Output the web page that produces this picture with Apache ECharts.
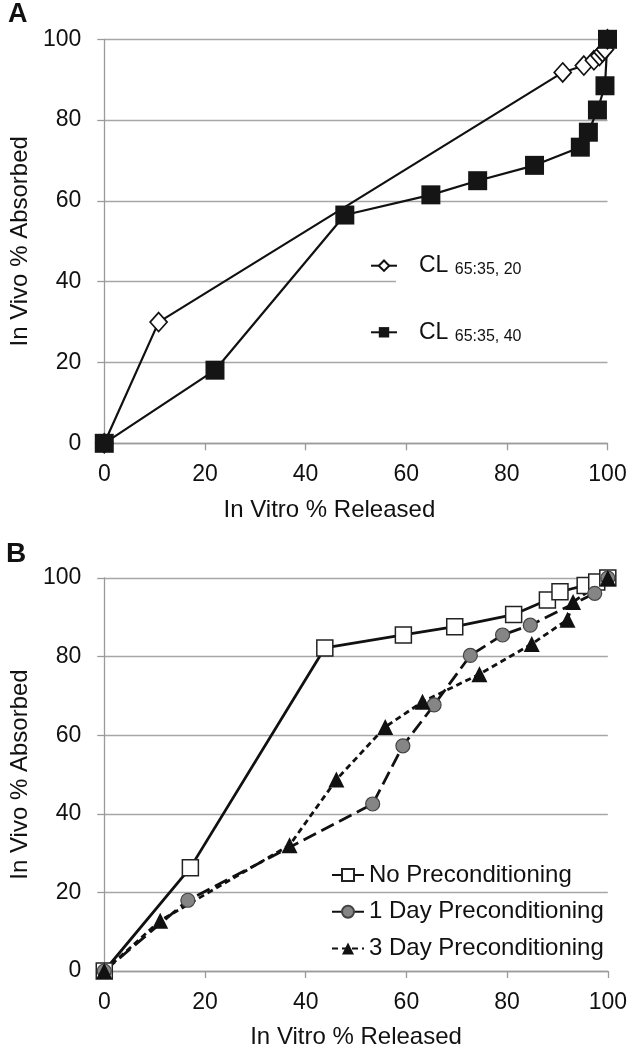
<!DOCTYPE html>
<html>
<head>
<meta charset="utf-8">
<script src="https://cdn.jsdelivr.net/npm/echarts@6/dist/echarts.min.js"></script>
<style>
html,body{margin:0;padding:0;background:#fff;}
#chart{width:630px;height:1050px;}
</style>
</head>
<body>
<div id="chart"></div>
<script>
// ---- Data ----
const xTicks = [0, 20, 40, 60, 80, 100];
const yTicks = [0, 20, 40, 60, 80, 100];

// Panel A
const seriesA1Name = 'CL 65:35, 20';
const seriesA1 = [[0,0],[10.8,30],[91.1,91.8],[95.3,93.5],[97.3,94.8],[98.4,95.9],[99.0,96.8],[99.5,97.5],[100,100]];
const seriesA2Name = 'CL 65:35, 40';
const seriesA2 = [[0,0],[22.0,18.1],[47.8,56.5],[64.9,61.5],[74.2,65.0],[85.5,68.8],[94.6,73.3],[96.2,77.0],[98.0,82.5],[99.5,88.5],[100,100]];

// Panel B
const seriesB1Name = 'No Preconditioning';
const seriesB1 = [[0,0],[17.1,26.3],[43.8,82.2],[59.4,85.5],[69.6,87.6],[81.3,90.7],[88.0,94.4],[90.5,96.5],[95.5,98.1],[97.8,99.0],[100,100]];
const seriesB2Name = '1 Day Preconditioning';
const seriesB2 = [[0,0],[16.6,18.0],[53.3,42.5],[59.3,57.3],[65.5,67.7],[72.7,80.3],[79.1,85.5],[84.6,88.0],[97.4,96.1],[100,100]];
const seriesB3Name = '3 Day Preconditioning';
const seriesB3 = [[0,0],[11.1,12.8],[36.8,32.0],[46.1,48.7],[55.8,62.1],[63.2,68.5],[74.5,75.5],[84.9,83.2],[92.0,89.4],[93.1,93.9],[100,100]];

const xTitle = 'In Vitro % Released';
const yTitle = 'In Vivo % Absorbed';

// ---- Styles ----
const FONT = "'Liberation Sans', Arial, sans-serif";
const GRID_GRAY = '#a6a6a6';
const AXIS_GRAY = '#9a9a9a';

function xAxisCfg(gridIndex, namePad) {
  return {
    type: 'value', gridIndex, min: xTicks[0], max: xTicks[xTicks.length-1], interval: xTicks[1]-xTicks[0],
    name: xTitle, nameLocation: 'middle', nameGap: gridIndex === 0 ? 55 : 54,
    nameTextStyle: { fontFamily: FONT, fontSize: 24, color: '#111', padding: namePad },
    axisLine: { show: true, lineStyle: { color: AXIS_GRAY, width: 1.3 } },
    axisTick: { show: true, inside: false, length: 7, lineStyle: { color: AXIS_GRAY, width: 1.3 } },
    axisLabel: { fontFamily: FONT, fontSize: 23, color: '#111', margin: 20 },
    splitLine: { show: false }
  };
}
function yAxisCfg(gridIndex) {
  return {
    type: 'value', gridIndex, min: yTicks[0], max: yTicks[yTicks.length-1], interval: yTicks[1]-yTicks[0],
    name: yTitle, nameLocation: 'middle', nameGap: 66, nameRotate: 90,
    nameTextStyle: { fontFamily: FONT, fontSize: 24, color: '#111' },
    axisLine: { show: true, lineStyle: { color: AXIS_GRAY, width: 1.3 } },
    axisTick: { show: true, inside: false, length: 7, lineStyle: { color: AXIS_GRAY, width: 1.3 } },
    axisLabel: { fontFamily: FONT, fontSize: 23, color: '#111', margin: 23 },
    splitLine: { show: true, lineStyle: { color: GRID_GRAY, width: 1.3 } }
  };
}

const subRich = {
  a: { fontFamily: FONT, fontSize: 23, lineHeight: 24, color: '#111', verticalAlign: 'middle', padding: [0,0,0,17] },
  s: { fontFamily: FONT, fontSize: 16, lineHeight: 16, color: '#111', verticalAlign: 'bottom', padding: [16,0,0,0] }
};
function subFormatter(name) {
  const parts = name.split(' ');
  return '{a|' + parts[0] + ' }{s|' + parts.slice(1).join(' ') + '}';
}

const option = {
  animation: false,
  backgroundColor: '#fff',
  textStyle: { fontFamily: FONT },
  grid: [
    { left: 96, right: 22.5, top: 39.3, height: 404, containLabel: false },
    { left: 91, right: 22, top: 578, height: 398, containLabel: false }
  ],
  xAxis: [ xAxisCfg(0, [0, 53, 0, 0]), xAxisCfg(1, 0) ],
  yAxis: [ yAxisCfg(0), yAxisCfg(1) ],
  legend: [
    { data: [seriesA1Name], left: 370, top: 245.7, padding: 0, itemWidth: 26, itemHeight: 13,
      formatter: subFormatter, textStyle: { rich: subRich } },
    { data: [seriesA2Name], left: 370, top: 312.3, padding: 0, itemWidth: 26, itemHeight: 13,
      formatter: subFormatter, textStyle: { rich: subRich } },
    { data: [seriesB1Name, seriesB2Name, seriesB3Name], orient: 'vertical', left: 331, top: 863, padding: 0,
      itemWidth: 32, itemHeight: 15, itemGap: 12.7,
      textStyle: { fontFamily: FONT, fontSize: 24, lineHeight: 24, color: '#111' } }
  ],
  graphic: [
    { type: 'rect', z: 1, shape: { x: 396, y: 276, width: 214, height: 10 }, style: { fill: '#fff' } },
    { type: 'text', left: 8, top: 1, style: { text: 'A', font: "bold 27px " + FONT, fill: '#111' } },
    { type: 'text', left: 6, top: 540, style: { text: 'B', font: "bold 28px " + FONT, fill: '#111' } }
  ],
  series: [
    { name: seriesA1Name, type: 'line', xAxisIndex: 0, yAxisIndex: 0, data: seriesA1,
      symbol: 'diamond', symbolSize: [17, 19], showAllSymbol: true,
      lineStyle: { color: '#111', width: 2.2 },
      itemStyle: { color: '#fff', borderColor: '#111', borderWidth: 1.7 } },
    { name: seriesA2Name, type: 'line', xAxisIndex: 0, yAxisIndex: 0, data: seriesA2,
      symbol: 'rect', symbolSize: 19, showAllSymbol: true,
      lineStyle: { color: '#111', width: 2.2 },
      itemStyle: { color: '#151515', borderColor: '#151515', borderWidth: 0 } },
    { name: seriesB1Name, type: 'line', xAxisIndex: 1, yAxisIndex: 1, data: seriesB1,
      symbol: 'rect', symbolSize: 16, showAllSymbol: true,
      lineStyle: { color: '#111', width: 2.8 },
      itemStyle: { color: '#fff', borderColor: '#222', borderWidth: 1.5 } },
    { name: seriesB2Name, type: 'line', xAxisIndex: 1, yAxisIndex: 1, data: seriesB2,
      symbol: 'circle', symbolSize: 14, showAllSymbol: true,
      lineStyle: { color: '#111', width: 2.8, type: [14, 6] },
      itemStyle: { color: '#858585', borderColor: '#444', borderWidth: 1.2 } },
    { name: seriesB3Name, type: 'line', xAxisIndex: 1, yAxisIndex: 1, data: seriesB3,
      symbol: 'triangle', symbolSize: 16, showAllSymbol: true,
      lineStyle: { color: '#111', width: 2.8, type: [6, 4] },
      itemStyle: { color: '#111', borderColor: '#111', borderWidth: 0 } }
  ]
};

const chart = echarts.init(document.getElementById('chart'), null, { renderer: 'canvas' });
chart.setOption(option);
</script>
</body>
</html>
